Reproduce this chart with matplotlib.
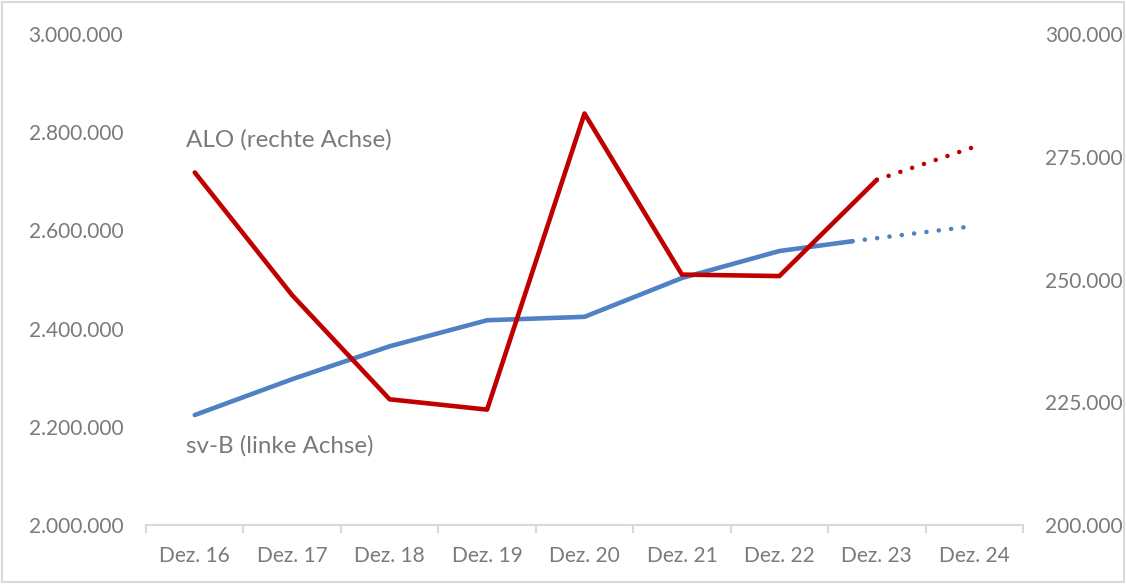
import matplotlib
matplotlib.use("Agg")
import matplotlib.pyplot as plt
from matplotlib.patches import Rectangle

plt.rcParams["font.family"] = ["Lato", "DejaVu Sans"]

# Kategorien (Jahresende), Positionen in Monaten ab Dez. 16
kategorien = ["Dez. 16", "Dez. 17", "Dez. 18", "Dez. 19", "Dez. 20",
              "Dez. 21", "Dez. 22", "Dez. 23", "Dez. 24"]

# sv-B (linke Achse), Monatsindex ab Dez. 16
svb_monate = [0, 12, 24, 36, 48, 60, 72, 81]
svb_werte = [2224000, 2297000, 2364000, 2417000, 2424000, 2503000, 2558000, 2578000]
svb_prog_monate = [81, 96]
svb_prog_werte = [2578000, 2609000]

# ALO (rechte Achse)
alo_monate = [0, 12, 24, 36, 48, 60, 72, 84]
alo_werte = [271800, 246800, 225600, 223500, 283800, 251000, 250700, 270300]
alo_prog_monate = [84, 96]
alo_prog_werte = [270300, 277000]

BLAU = "#4f81c4"
ROT = "#c00000"
GRAU = "#7a7a7a"
ACHSE = "#d9d9d9"


def fmt(v):
    return f"{int(v):,}".replace(",", ".")


fig = plt.figure(figsize=(11.26, 5.84), dpi=100)
ax = fig.add_axes([0.1297, 0.101, 0.7788, 0.8408])
ax2 = ax.twinx()

m2x = lambda ms: [m / 12 for m in ms]

ax.plot(m2x(svb_monate), svb_werte, color=BLAU, lw=3.3, solid_capstyle="round",
        solid_joinstyle="round", zorder=3)
ax.plot(m2x(svb_prog_monate), svb_prog_werte, color=BLAU, lw=3.3,
        dashes=(0.01, 2.7), dash_capstyle="round", zorder=3)

ax2.plot(m2x(alo_monate), alo_werte, color=ROT, lw=3.3, solid_capstyle="round",
         solid_joinstyle="round", zorder=3)
ax2.plot(m2x(alo_prog_monate), alo_prog_werte, color=ROT, lw=3.3,
         dashes=(0.01, 2.7), dash_capstyle="round", zorder=3)

ax.set_xlim(-0.5, len(kategorien) - 0.5)
ax.set_ylim(2000000, 3000000)
ax2.set_ylim(200000, 300000)

ax.set_yticks(range(2000000, 3000001, 200000))
ax.set_yticklabels([fmt(v) for v in range(2000000, 3000001, 200000)])
ax2.set_yticks(range(200000, 300001, 25000))
ax2.set_yticklabels([fmt(v) for v in range(200000, 300001, 25000)])

ax.set_xticks(range(len(kategorien)))
ax.set_xticklabels(kategorien)
ax.set_xticks([i - 0.5 for i in range(len(kategorien) + 1)], minor=True)

for a in (ax, ax2):
    for s in ("top", "left", "right", "bottom"):
        a.spines[s].set_visible(False)
ax.spines["bottom"].set_visible(True)
ax.spines["bottom"].set_color(ACHSE)
ax.spines["bottom"].set_linewidth(1.5)

ax.tick_params(axis="y", length=0, pad=16.5, labelsize=15, labelcolor=GRAU)
ax2.tick_params(axis="y", length=0, pad=16, labelsize=15, labelcolor=GRAU)
ax.tick_params(axis="x", which="major", length=0, pad=15, labelsize=15, labelcolor=GRAU)
ax.tick_params(axis="x", which="minor", length=6, width=1.5, color=ACHSE)

ax.text(-0.09, 2785000, "ALO (rechte Achse)", fontsize=17.4, color=GRAU, va="center", ha="left")
ax.text(-0.09, 2162000, "sv-B (linke Achse)", fontsize=17.4, color=GRAU, va="center", ha="left")

fig.patches.append(Rectangle((0.002, 0.003), 0.996, 0.994, transform=fig.transFigure,
                             fill=False, edgecolor=ACHSE, lw=1.5))

fig.savefig("out.png", dpi=100)
